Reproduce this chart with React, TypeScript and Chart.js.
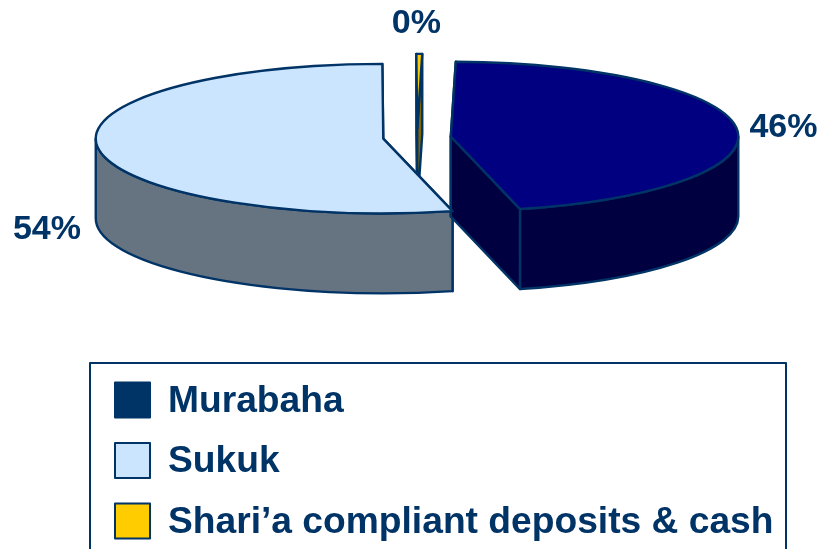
import React, { useEffect, useRef } from "react";
import { Chart, registerables } from "chart.js";

Chart.register(...registerables);

const categories = ["Murabaha", "Sukuk", "Shari\u2019a compliant deposits & cash"];
const shares = [46, 54, 0.33];
const percentLabels = ["46%", "54%", "0%"];
const topColors = ["#000080", "#CCE5FF", "#FFCC00"];
const wallColors = ["#000040", "#667380", "#806600"];
const legendColors = ["#003366", "#CCE5FF", "#FFCC00"];

const INK = "#003366";
const FONT = "bold 34px 'Liberation Sans', Arial, sans-serif";
const LEGEND_FONT = "bold 37.2px 'Liberation Sans', Arial, sans-serif";
const SQUASH = 0.26;
const DEPTH = 80;
const EXPLODE = 34;
const RADIUS = 287.5;
const labelNudge = [
  { x: 13, y: 0, align: "left" },
  { x: -17, y: 82, align: "right" },
  { x: -3, y: -30, align: "center" },
];

const tilt3d = {
  id: "tilt3d",
  afterDatasetsUpdate(chart: any) {
    chart.getDatasetMeta(0).data.forEach((el: any) => {
      const mid = (el.startAngle + el.endAngle) / 2;
      el.x += Math.cos(mid) * EXPLODE;
      el.y += Math.sin(mid) * EXPLODE;
    });
  },
  beforeDatasetsDraw(chart: any) {
    const { ctx, chartArea } = chart;
    const midY = (chartArea.top + chartArea.bottom) / 2;
    const arcs = chart.getDatasetMeta(0).data;
    const planeY = (el: any) => midY + SQUASH * (el.y - midY);
    ctx.save();
    ctx.lineWidth = 2.4;
    ctx.strokeStyle = INK;
    ctx.lineJoin = "round";
    // back to front: thin slice, then Sukuk, then Murabaha
    [2, 1, 0].forEach((i) => {
      const el = arcs[i];
      const r = el.outerRadius;
      const cy = planeY(el);
      ctx.fillStyle = wallColors[i];
      [el.startAngle, el.endAngle].forEach((a) => {
        const ex = el.x + r * Math.cos(a);
        const ey = cy + SQUASH * r * Math.sin(a);
        ctx.beginPath();
        ctx.moveTo(el.x, cy);
        ctx.lineTo(ex, ey);
        ctx.lineTo(ex, ey + DEPTH);
        ctx.lineTo(el.x, cy + DEPTH);
        ctx.closePath();
        ctx.fill();
        ctx.stroke();
      });
      const a1 = Math.max(el.startAngle, 0);
      const a2 = Math.min(el.endAngle, Math.PI);
      if (a2 > a1) {
        ctx.beginPath();
        ctx.ellipse(el.x, cy, r, r * SQUASH, 0, a1, a2);
        ctx.ellipse(el.x, cy + DEPTH, r, r * SQUASH, 0, a2, a1, true);
        ctx.closePath();
        ctx.fill();
        ctx.stroke();
      }
    });
    ctx.restore();
    ctx.save();
    ctx.translate(0, midY);
    ctx.scale(1, SQUASH);
    ctx.translate(0, -midY);
  },
  afterDatasetsDraw(chart: any) {
    const { ctx, chartArea, width } = chart;
    ctx.restore();
    const midY = (chartArea.top + chartArea.bottom) / 2;
    const arcs = chart.getDatasetMeta(0).data;
    ctx.save();
    ctx.lineWidth = 2.4;
    ctx.strokeStyle = INK;
    ctx.lineJoin = "round";
    arcs.forEach((el: any) => {
      const cy = midY + SQUASH * (el.y - midY);
      const r = el.outerRadius;
      ctx.beginPath();
      ctx.moveTo(el.x, cy);
      ctx.ellipse(el.x, cy, r, r * SQUASH, 0, el.startAngle, el.endAngle);
      ctx.closePath();
      ctx.stroke();
    });
    // percentage labels
    ctx.fillStyle = INK;
    ctx.font = FONT;
    ctx.textBaseline = "middle";
    arcs.forEach((el: any, i: number) => {
      const mid = (el.startAngle + el.endAngle) / 2;
      const cy = midY + SQUASH * (el.y - midY);
      const nudge = labelNudge[i];
      ctx.textAlign = nudge.align;
      ctx.fillText(
        percentLabels[i],
        el.x + el.outerRadius * Math.cos(mid) + nudge.x,
        cy + SQUASH * el.outerRadius * Math.sin(mid) + nudge.y
      );
    });
    // legend box
    ctx.lineWidth = 2;
    ctx.fillStyle = "#FFFFFF";
    ctx.fillRect(90, 363, width - 33 - 90, 200);
    ctx.strokeRect(90, 363, width - 33 - 90, 200);
    ctx.font = LEGEND_FONT;
    ctx.textAlign = "left";
    ctx.textBaseline = "alphabetic";
    categories.forEach((name, i) => {
      const top = 382.5 + i * 60.5;
      ctx.fillStyle = legendColors[i];
      ctx.fillRect(115, top, 35, 35);
      ctx.strokeRect(115, top, 35, 35);
      ctx.fillStyle = INK;
      ctx.fillText(name, 168, top + 29);
    });
    ctx.restore();
  },
};

export default function App() {
  const ref = useRef<HTMLCanvasElement | null>(null);
  useEffect(() => {
    document.body.style.margin = "0";
    document.body.style.background = "#fff";
    const chart = new Chart(ref.current as HTMLCanvasElement, {
      type: "pie",
      data: {
        labels: categories,
        datasets: [
          {
            data: shares,
            backgroundColor: topColors,
            borderWidth: 0,
            clip: false,
          } as any,
        ],
      },
      options: {
        responsive: false,
        animation: false,
        rotation: 1.0,
        radius: RADIUS,
        layout: { padding: { left: 15, bottom: 274 } },
        plugins: { legend: { display: false }, tooltip: { enabled: false } },
      } as any,
      plugins: [tilt3d],
    });
    return () => chart.destroy();
  }, []);
  return (
    <canvas
      ref={ref}
      width={819}
      height={549}
      style={{ position: "fixed", left: 0, top: 0, width: 819, height: 549, display: "block" }}
    />
  );
}
